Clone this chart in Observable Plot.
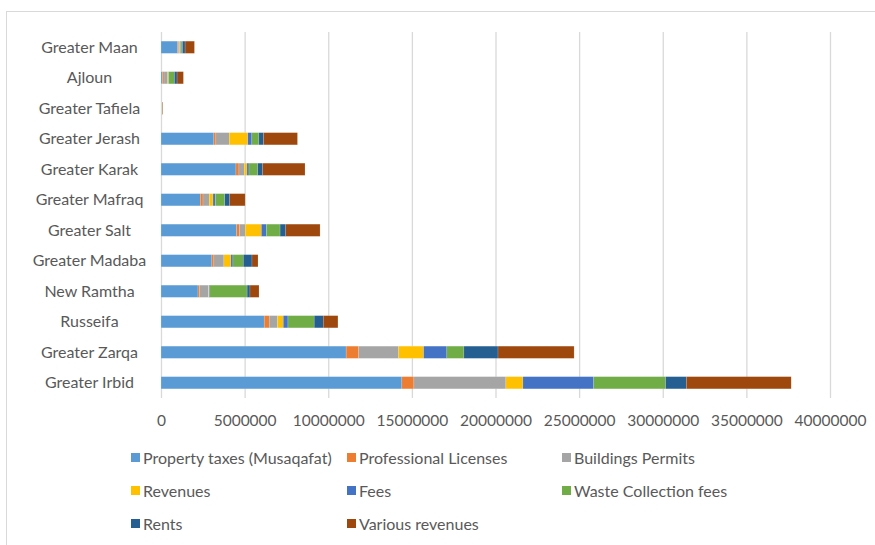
<!DOCTYPE html>
<html>
<head>
<meta charset="utf-8">
<script src="https://cdn.jsdelivr.net/npm/d3@7"></script>
<script src="https://cdn.jsdelivr.net/npm/@observablehq/plot@0.6"></script>
<style>
  html, body { margin: 0; padding: 0; background: #fff; }
  #wrap { position: relative; width: 875px; height: 545px; overflow: hidden; font-family: Lato, "Open Sans", sans-serif; }
  .bt { position: absolute; left: 6px; top: 11px; right: 0; height: 0; border-top: 1.5px solid #d9d9d9; }
  .bl { position: absolute; left: 6px; top: 11px; bottom: 0; width: 0; border-left: 1.5px solid #d9d9d9; }
  #chart { position: absolute; left: 0; top: 0; }
  #legend { position: absolute; left: 131px; top: 441px; display: grid; grid-template-columns: 216px 215px 216px; grid-auto-rows: 33px; align-items: center; color: #595959; font-size: 16px; }
  .item { display: flex; align-items: center; white-space: nowrap; }
  .sw { width: 9px; height: 9px; margin-right: 3px; flex: none; }
</style>
</head>
<body>
<div id="wrap">
  <div class="bt"></div>
  <div class="bl"></div>
  <div id="chart"></div>
  <div id="legend"></div>
</div>
<script>
const categories = ["Greater Maan", "Ajloun", "Greater Tafiela", "Greater Jerash", "Greater Karak", "Greater Mafraq", "Greater Salt", "Greater Madaba", "New Ramtha", "Russeifa", "Greater Zarqa", "Greater Irbid"];

const seriesNames = ["Property taxes (Musaqafat)", "Professional Licenses", "Buildings Permits", "Revenues", "Fees", "Waste Collection fees", "Rents", "Various revenues"];

const colors = ["#5B9BD5", "#ED7D31", "#A5A5A5", "#FFC000", "#4472C4", "#70AD47", "#255E91", "#9E480E"];

// values per series, in the order of categories
const propertyTaxes   = [1000000, 100000, 15000, 3160000, 4480000, 2350000, 4520000, 3040000, 2210000, 6170000, 11070000, 14400000];
const profLicenses    = [60000, 80000, 5000, 120000, 180000, 160000, 180000, 120000, 100000, 300000, 750000, 720000];
const buildingPermits = [60000, 220000, 25000, 800000, 320000, 380000, 340000, 600000, 540000, 500000, 2390000, 5500000];
const revenues        = [40000, 40000, 5000, 1110000, 160000, 220000, 960000, 420000, 20000, 340000, 1490000, 1020000];
const fees            = [40000, 20000, 3000, 240000, 120000, 140000, 300000, 120000, 50000, 280000, 1390000, 4230000];
const wasteFees       = [80000, 340000, 15000, 420000, 520000, 560000, 820000, 620000, 2230000, 1570000, 1020000, 4300000];
const rents           = [160000, 160000, 5000, 280000, 300000, 300000, 340000, 520000, 170000, 540000, 2040000, 1240000];
const variousRevenues = [560000, 380000, 30000, 2030000, 2530000, 920000, 2050000, 360000, 540000, 880000, 4550000, 6270000];

const xTicks = [0, 5000000, 10000000, 15000000, 20000000, 25000000, 30000000, 35000000, 40000000];

const seriesValues = [propertyTaxes, profLicenses, buildingPermits, revenues, fees, wasteFees, rents, variousRevenues];

const data = [];
categories.forEach((c, i) => {
  seriesNames.forEach((s, j) => {
    data.push({category: c, series: s, value: seriesValues[j][i]});
  });
});

const chart = Plot.plot({
  width: 875,
  height: 440,
  marginLeft: 161,
  marginRight: 45,
  marginTop: 32,
  marginBottom: 42,
  style: {fontFamily: "Lato, 'Open Sans', sans-serif", fontSize: "16px", color: "#595959", background: "transparent", overflow: "visible"},
  x: {domain: [0, 40000000]},
  y: {domain: categories, paddingInner: 0.6, paddingOuter: 0.3, round: false},
  color: {domain: seriesNames, range: colors},
  marks: [
    Plot.gridX(xTicks, {stroke: "#d9d9d9", strokeOpacity: 1, strokeWidth: 1.3}),
    Plot.barX(data, {x: "value", y: "category", fill: "series", stroke: "white", strokeOpacity: 0.3, strokeWidth: 0.5}),
    Plot.axisX({ticks: xTicks, tickSize: 0, tickPadding: 16, tickFormat: d3.format("d"), fontSize: 15.5, fill: "#595959", label: null}),
    Plot.axisY({tickSize: 0, tickPadding: 72, textAnchor: "middle", fontSize: 16, fill: "#595959", label: null})
  ]
});
document.getElementById("chart").appendChild(chart);

const legend = document.getElementById("legend");
seriesNames.forEach((s, j) => {
  const item = document.createElement("div");
  item.className = "item";
  const sw = document.createElement("span");
  sw.className = "sw";
  sw.style.background = colors[j];
  const t = document.createElement("span");
  t.textContent = s;
  item.appendChild(sw);
  item.appendChild(t);
  legend.appendChild(item);
});
</script>
</body>
</html>
